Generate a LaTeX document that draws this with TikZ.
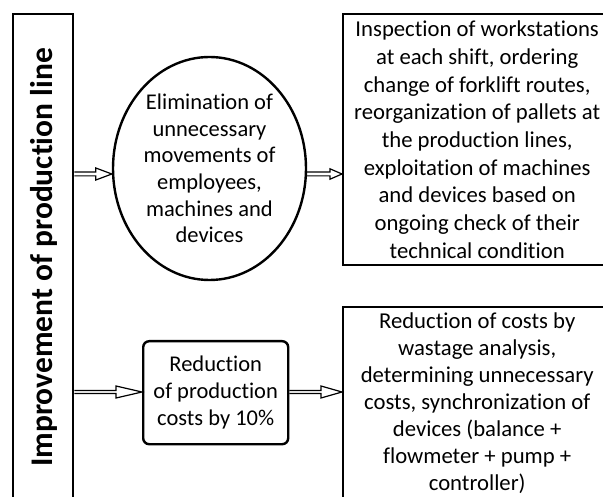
\documentclass[tikz,border=0pt]{standalone}
\usepackage{fontspec}
\setmainfont{Carlito}[Ligatures=NoCommon]
\usetikzlibrary{shapes.geometric,calc}

\tikzset{
  frame/.style={draw, line width=2.4pt, inner sep=0pt, align=center},
  blk/.style={draw, line width=1.2pt, line join=miter},
}

% outlined block arrow: #1 start, #2 end, #3 head length, #4 head half-height, #5 shaft half-height
\newcommand\blockarrow[5]{%
  \path[blk] let \p1=(#1), \p2=(#2) in
    (\x1,\y1+#5) -- (\x2-#3,\y1+#5) -- (\x2-#3,\y1+#4) -- (\x2,\y1)
    -- (\x2-#3,\y1-#4) -- (\x2-#3,\y1-#5) -- (\x1,\y1-#5);
}

\newcommand\txtA{\fontsize{22.7}{27.7}\selectfont}
\newcommand\txtB{\fontsize{22.7}{26.9}\selectfont}
\newcommand\txtC{\fontsize{22.5}{26.6}\selectfont}
\newcommand\txtD{\fontsize{22.5}{27.2}\selectfont}

\begin{document}
\begin{tikzpicture}[x=1pt,y=-1pt]
\clip (0,0) rectangle (603,497);
\fill[white] (0,0) rectangle (603,497);

% left banner
\node[frame, minimum width=60, minimum height=495, anchor=north west] (side) at (12,13) {};
\node[rotate=90, anchor=base, font=\fontsize{31.5}{36}\selectfont\bfseries] (title) at (52.5,257.5)
  {Improvement of production line};

% upper row
\node[frame, ellipse, minimum width=193, minimum height=223, font=\txtC] (elim) at (209.5,168.5)
  {Elimination of\\unnecessary\\movements of\\employees,\\machines and\\devices};
\node[frame, minimum width=268, minimum height=251, anchor=north west, font=\txtA] (insp) at (342,13)
  {Inspection of workstations\\at each shift, ordering\\change of forklift routes,\\reorganization of pallets at\\the production lines,\\exploitation of machines\\and devices based on\\ongoing check of their\\technical condition};

% lower row
\node[frame, rounded corners=6pt, minimum width=145, minimum height=103, anchor=north west, font=\txtD] (cost) at (142,340)
  {Reduction\\of production\\costs by 10\%};
\node[frame, minimum width=268, minimum height=192, anchor=north west, font=\txtB] (wast) at (342,306)
  {Reduction of costs by\\wastage analysis,\\determining unnecessary\\costs, synchronization of\\devices (balance +\\flowmeter + pump +\\controller)};

% row levels of the connectors
\coordinate (r1) at (0,174);
\coordinate (r2) at (0,392);

\blockarrow{side.east |- r1}{elim.west |- r1}{16}{6}{1.9}
\blockarrow{elim.east |- r1}{insp.west |- r1}{12}{5.2}{1.9}
\blockarrow{side.east |- r2}{cost.west |- r2}{26}{6}{1.5}
\blockarrow{cost.east |- r2}{wast.west |- r2}{21}{6}{1.5}
\end{tikzpicture}
\end{document}
